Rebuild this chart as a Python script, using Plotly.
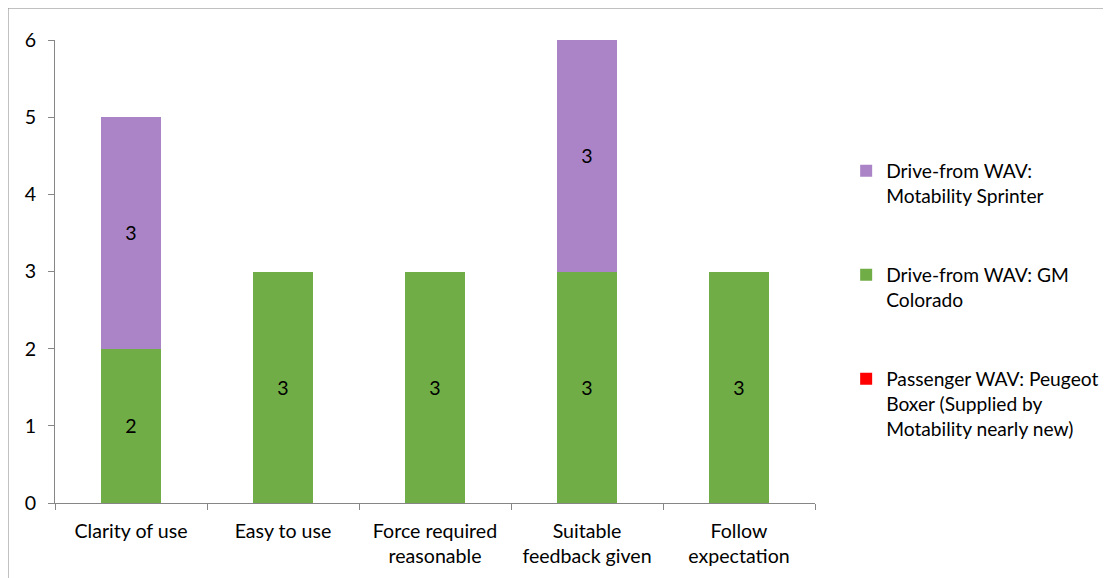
import plotly.graph_objects as go

categories = ["Clarity of use", "Easy to use", "Force required<br>reasonable",
              "Suitable<br>feedback given", "Follow<br>expectation"]
passenger_peugeot = [0, 0, 0, 0, 0]
gm_colorado = [2, 3, 3, 3, 3]
motability_sprinter = [3, 0, 0, 3, 0]

names = ["Passenger WAV: Peugeot<br>Boxer (Supplied by<br>Motability nearly new)",
         "Drive-from WAV: GM<br>Colorado",
         "Drive-from WAV:<br>Motability Sprinter"]
colors = ["#FF0000", "#70AD47", "#AA84C6"]
series = [passenger_peugeot, gm_colorado, motability_sprinter]
ranks = [3, 2, 1]

FONT = "Lato"
FS = 19.6
LFS = 19.2
fig = go.Figure()
for i, (nm, col, vals) in enumerate(zip(names, colors, series)):
    fig.add_trace(go.Bar(
        x=categories, y=vals, name=nm, marker_color=col,
        marker_line_width=0,
        text=[str(v) if v else "" for v in vals],
        textposition="inside", insidetextanchor="middle",
        textfont=dict(color="black", size=FS, family=FONT),
        legendgroup=f"g{i}", legendrank=ranks[i],
    ))

fig.update_layout(
    barmode="stack", bargap=0.6,
    width=1103, height=570,
    margin=dict(l=47, r=296, t=32, b=75, autoexpand=False),
    plot_bgcolor="white", paper_bgcolor="white",
    font=dict(family=FONT, size=FS, color="black"),
    uniformtext=dict(mode="show", minsize=FS),
    legend=dict(x=1.041, xanchor="left", y=0.7585, yanchor="top",
                traceorder="grouped", tracegroupgap=51,
                valign="top", font=dict(size=LFS, family=FONT)),
    shapes=[
        dict(type="line", xref="paper", yref="paper", x0=-0.0618, x1=-0.0618,
             y0=1.069, y1=-0.5, line=dict(color="#8C8C8C", width=1)),
        dict(type="line", xref="paper", yref="paper", x0=-0.0618, x1=1.5,
             y0=1.069, y1=1.069, line=dict(color="#8C8C8C", width=1)),
    ],
)
fig.update_xaxes(showline=True, linecolor="#868686", linewidth=1,
                 ticks="outside", tickson="boundaries", ticklen=6,
                 tickcolor="#868686", showgrid=False, ticklabelstandoff=10,
                 tickfont=dict(size=FS, family=FONT))
fig.update_yaxes(range=[0, 6], dtick=1, showline=True, linecolor="#868686",
                 linewidth=1, ticks="outside", ticklen=6, tickcolor="#868686",
                 showgrid=False, zeroline=False, ticklabelstandoff=8,
                 tickfont=dict(size=FS, family=FONT))

fig.write_html("out.html")
